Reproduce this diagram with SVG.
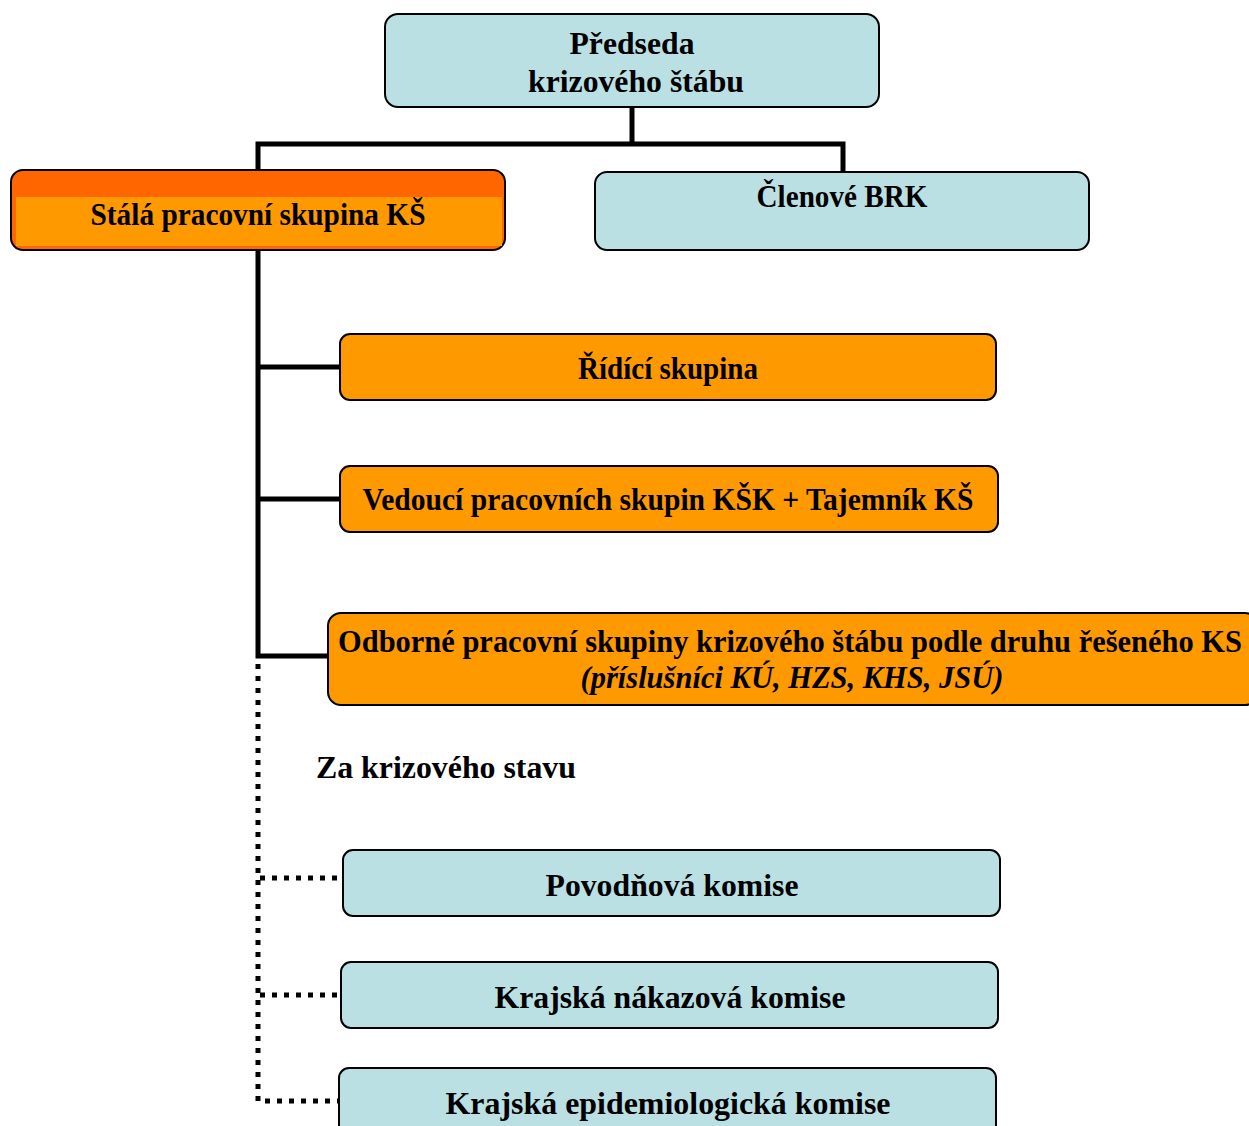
<svg xmlns="http://www.w3.org/2000/svg" width="1249" height="1126" viewBox="0 0 1249 1126">
<style>
.cy{fill:#BBE0E3;stroke:#000;stroke-width:2}
.or{fill:#FF9900;stroke:#000;stroke-width:2}
text{font-family:"Liberation Serif","Times New Roman",serif;font-weight:bold;font-size:31px;fill:#000}
.c{text-anchor:middle}
.solid{fill:none;stroke:#000;stroke-width:5}
.dot{fill:none;stroke:#000;stroke-width:5;stroke-dasharray:5 7}
</style>
<rect width="1249" height="1126" fill="#fff"/>
<g id="connectors">
<polyline class="solid" points="632,107 632,144"/>
<polyline class="solid" points="258,170 258,144 843,144 843,172"/>
<polyline class="solid" points="258,250 258,656 328,656"/>
<line class="solid" x1="258" y1="367" x2="340" y2="367"/>
<line class="solid" x1="258" y1="499" x2="340" y2="499"/>
<polyline class="dot" points="258,664 258,1101 339,1101"/>
<line class="dot" x1="260" y1="878" x2="343" y2="878"/>
<line class="dot" x1="260" y1="995" x2="341" y2="995"/>
</g>
<g id="predseda">
<rect class="cy" x="385" y="14" width="494" height="93" rx="13"/>
<text class="c" x="632" y="54" textLength="125" lengthAdjust="spacingAndGlyphs">Předseda</text>
<text class="c" x="636" y="92" textLength="216" lengthAdjust="spacingAndGlyphs">krizového štábu</text>
</g>
<g id="stala">
<rect x="11" y="170" width="494" height="80" rx="12" fill="#FF6600" stroke="#000" stroke-width="2"/>
<rect x="16" y="197" width="486" height="49" fill="#FF9900"/>
<text class="c" x="258" y="225" textLength="335" lengthAdjust="spacingAndGlyphs">Stálá pracovní skupina KŠ</text>
</g>
<g id="clenove">
<rect class="cy" x="595" y="172" width="494" height="78" rx="12"/>
<text class="c" x="842" y="207" textLength="171" lengthAdjust="spacingAndGlyphs">Členové BRK</text>
</g>
<g id="ridici">
<rect class="or" x="340" y="334" width="656" height="66" rx="10"/>
<text class="c" x="668" y="379" textLength="180" lengthAdjust="spacingAndGlyphs">Řídící skupina</text>
</g>
<g id="vedouci">
<rect class="or" x="340" y="466" width="658" height="66" rx="10"/>
<text class="c" x="668" y="510" textLength="611" lengthAdjust="spacingAndGlyphs">Vedoucí pracovních skupin KŠK + Tajemník KŠ</text>
</g>
<g id="odborne">
<rect class="or" x="328" y="613" width="930" height="92" rx="13"/>
<text class="c" x="790" y="652" textLength="904" lengthAdjust="spacingAndGlyphs">Odborné pracovní skupiny krizového štábu podle druhu řešeného KS</text>
<text class="c" x="792" y="688" font-style="italic" textLength="423" lengthAdjust="spacingAndGlyphs">(příslušníci KÚ, HZS, KHS, JSÚ)</text>
</g>
<g id="label-za">
<text x="316" y="778" textLength="260" lengthAdjust="spacingAndGlyphs">Za krizového stavu</text>
</g>
<g id="povodnova">
<rect class="cy" x="343" y="850" width="657" height="66" rx="10"/>
<text class="c" x="672" y="896" textLength="253" lengthAdjust="spacingAndGlyphs">Povodňová komise</text>
</g>
<g id="nakazova">
<rect class="cy" x="341" y="962" width="657" height="66" rx="10"/>
<text class="c" x="670" y="1008" textLength="351" lengthAdjust="spacingAndGlyphs">Krajská nákazová komise</text>
</g>
<g id="epidemiologicka">
<rect class="cy" x="339" y="1068" width="657" height="80" rx="10"/>
<text class="c" x="668" y="1114" textLength="445" lengthAdjust="spacingAndGlyphs">Krajská epidemiologická komise</text>
</g>
</svg>
